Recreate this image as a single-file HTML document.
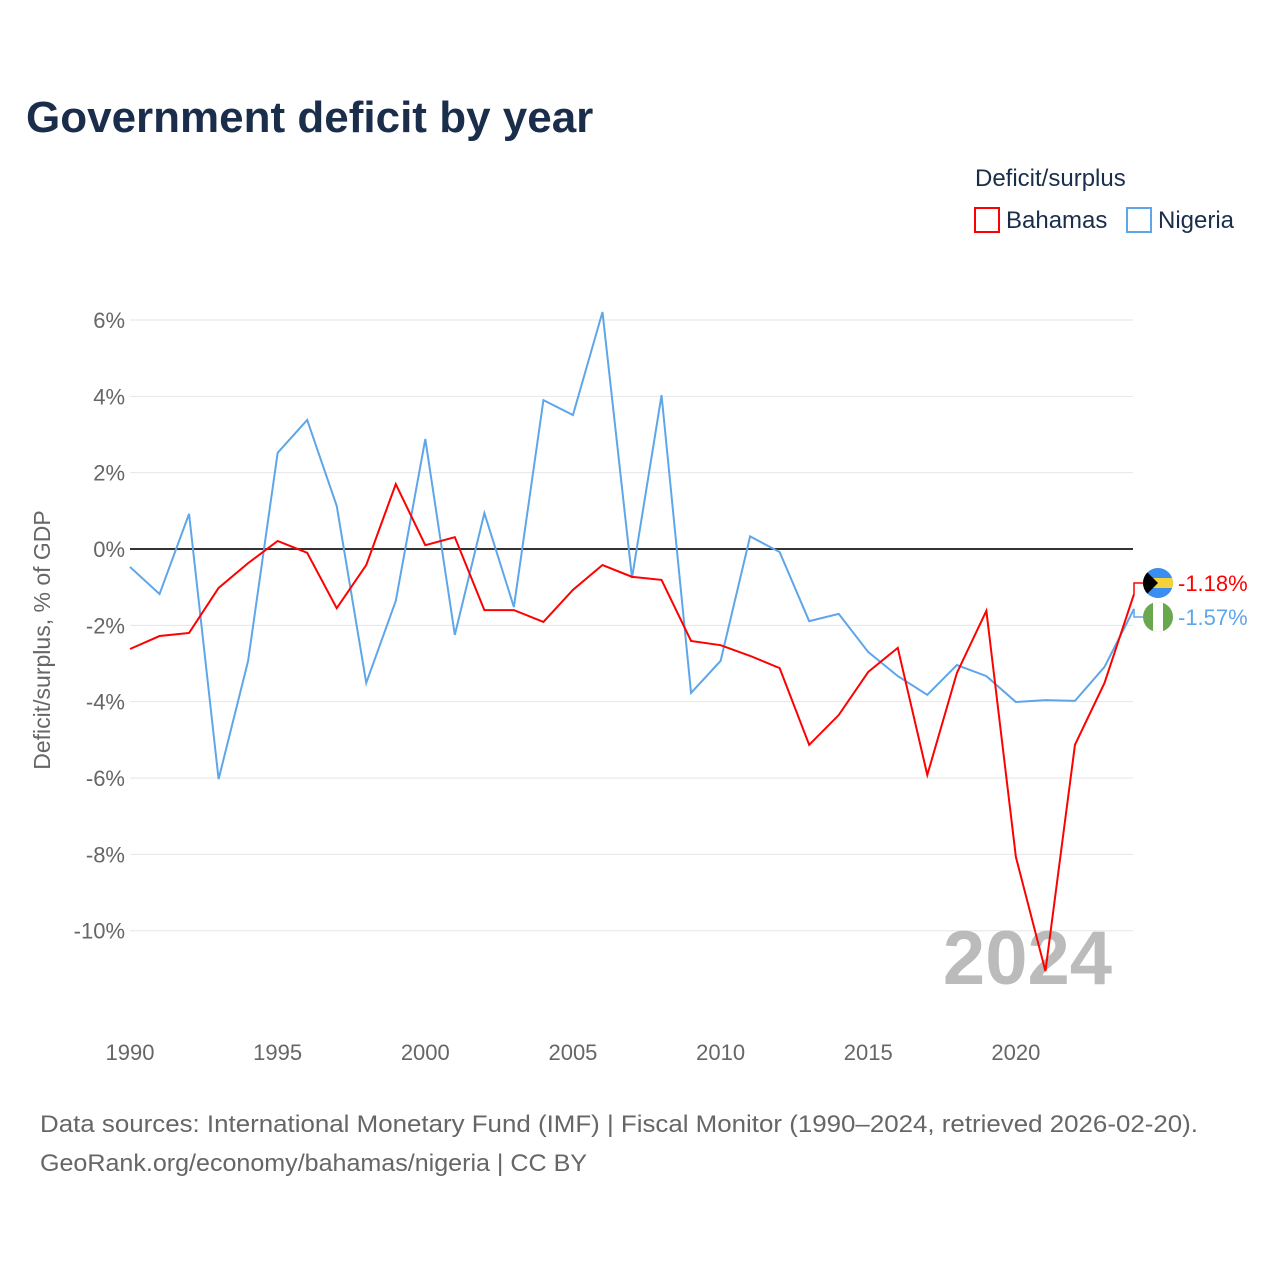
<!DOCTYPE html>
<html><head><meta charset="utf-8"><style>
body{margin:0;background:#fff;font-family:"Liberation Sans",sans-serif}
text{font-family:"Liberation Sans",sans-serif}
</style></head><body>
<svg id="chart" width="1280" height="1280" xmlns="http://www.w3.org/2000/svg">
<text x="26" y="132" font-size="44" font-weight="bold" fill="#1a2e4c">Government deficit by year</text>
<text x="975" y="186" font-size="24" fill="#1a2e4c">Deficit/surplus</text>
<g><rect x="975" y="208" width="24" height="24" fill="none" stroke="#ff0000" stroke-width="2"/><text x="1006" y="228" font-size="24" fill="#1a2e4c">Bahamas</text></g>
<g><rect x="1127" y="208" width="24" height="24" fill="none" stroke="#5ea6ea" stroke-width="2"/><text x="1158" y="228" font-size="24" fill="#1a2e4c">Nigeria</text></g>
<g id="grid"></g><g id="xaxis"></g>
<text x="1112" y="984" font-size="76" font-weight="bold" fill="#bbbbbb" text-anchor="end">2024</text>
<g id="series"></g>
<text transform="translate(50,640) rotate(-90)" font-size="23" fill="#666" text-anchor="middle">Deficit/surplus, % of GDP</text>
<text x="40" y="1132" font-size="24" fill="#666" textLength="1158" lengthAdjust="spacingAndGlyphs">Data sources: International Monetary Fund (IMF) | Fiscal Monitor (1990–2024, retrieved 2026-02-20).</text>
<text x="40" y="1171" font-size="24" fill="#666" textLength="547" lengthAdjust="spacingAndGlyphs">GeoRank.org/economy/bahamas/nigeria | CC BY</text>
</svg>
<script>
const years=[];for(let y=1990;y<=2024;y++)years.push(y);
const bahamas=[-2.62,-2.28,-2.2,-1.02,-0.37,0.21,-0.1,-1.55,-0.42,1.7,0.1,0.31,-1.6,-1.6,-1.91,-1.07,-0.42,-0.73,-0.81,-2.41,-2.52,-2.8,-3.12,-5.13,-4.35,-3.22,-2.59,-5.92,-3.25,-1.62,-8.07,-11.06,-5.13,-3.51,-1.18];
const nigeria=[-0.47,-1.18,0.92,-6.03,-2.93,2.52,3.38,1.13,-3.51,-1.36,2.88,-2.25,0.94,-1.52,3.9,3.51,6.21,-0.76,4.03,-3.77,-2.93,0.33,-0.08,-1.89,-1.7,-2.7,-3.33,-3.82,-3.04,-3.33,-4.01,-3.96,-3.98,-3.09,-1.57];
const yTicks=[6,4,2,0,-2,-4,-6,-8,-10];
const xTicks=[1990,1995,2000,2005,2010,2015,2020];
const NS="http://www.w3.org/2000/svg";
const X=v=>130+(v-1990)*29.53, Y=v=>549-v*38.17;
function mk(t,a,p){const e=document.createElementNS(NS,t);for(const k in a)e.setAttribute(k,a[k]);p.appendChild(e);return e;}
const g=document.getElementById('grid');
yTicks.forEach(t=>{
 const l=mk('line',{x1:130,x2:1133,y1:Y(t),y2:Y(t),stroke:t===0?'#333':'#e6e6e6','stroke-width':t===0?2:1},g);
 
 
 const tx=mk('text',{x:125,y:Y(t)+8,'font-size':22,fill:'#666','text-anchor':'end'},g);tx.textContent=t+'%';
 
 
});
const xa=document.getElementById('xaxis');
xTicks.forEach(t=>{const tx=mk('text',{x:X(t),y:1060,'font-size':22,fill:'#666','text-anchor':'middle'},xa);tx.textContent=t;
 
 });
const s=document.getElementById('series');
function line(d,c,n){const p=mk('polyline',{points:d.map((v,i)=>X(years[i])+','+Y(v)).join(' '),fill:'none',stroke:c,'stroke-width':2},s);
 
 }
line(nigeria,'#5ea6ea','nigeria-line');
line(bahamas,'#ff0000','bahamas-line');
const lastB=bahamas[bahamas.length-1], lastN=nigeria[nigeria.length-1];
const bx=X(2024),by=Y(lastB),ny=Y(lastN);
mk('polyline',{points:`${bx},${by} ${bx},${583} ${1143},583`,fill:'none',stroke:'#f00','stroke-width':1.5},s);
mk('polyline',{points:`${bx},${ny} ${bx},${617} ${1143},617`,fill:'none',stroke:'#5ea6ea','stroke-width':1.5},s);
const f1=mk('g',{},s);
mk('clipPath',{id:'c1'},f1);mk('circle',{cx:1158,cy:583,r:15},document.getElementById('c1'));
const fb=mk('g',{'clip-path':'url(#c1)'},f1);
mk('rect',{x:1143,y:568,width:30,height:30,fill:'#3a8ef0'},fb);
mk('rect',{x:1143,y:578,width:30,height:10,fill:'#f5d23a'},fb);
mk('polygon',{points:'1143,568 1158,583 1143,598',fill:'#000'},fb);
const f2=mk('g',{},s);
mk('clipPath',{id:'c2'},f2);mk('circle',{cx:1158,cy:617,r:15},document.getElementById('c2'));
const fn=mk('g',{'clip-path':'url(#c2)'},f2);
mk('rect',{x:1143,y:602,width:30,height:30,fill:'#6aa84f'},fn);
mk('rect',{x:1153,y:602,width:10,height:30,fill:'#fff'},fn);
const t1=mk('text',{x:1178,y:591,'font-size':22,fill:'#f00'},s);t1.textContent=lastB.toFixed(2)+'%';


const t2=mk('text',{x:1178,y:625,'font-size':22,fill:'#5ea6ea'},s);t2.textContent=lastN.toFixed(2)+'%';


</script>
</body></html>
